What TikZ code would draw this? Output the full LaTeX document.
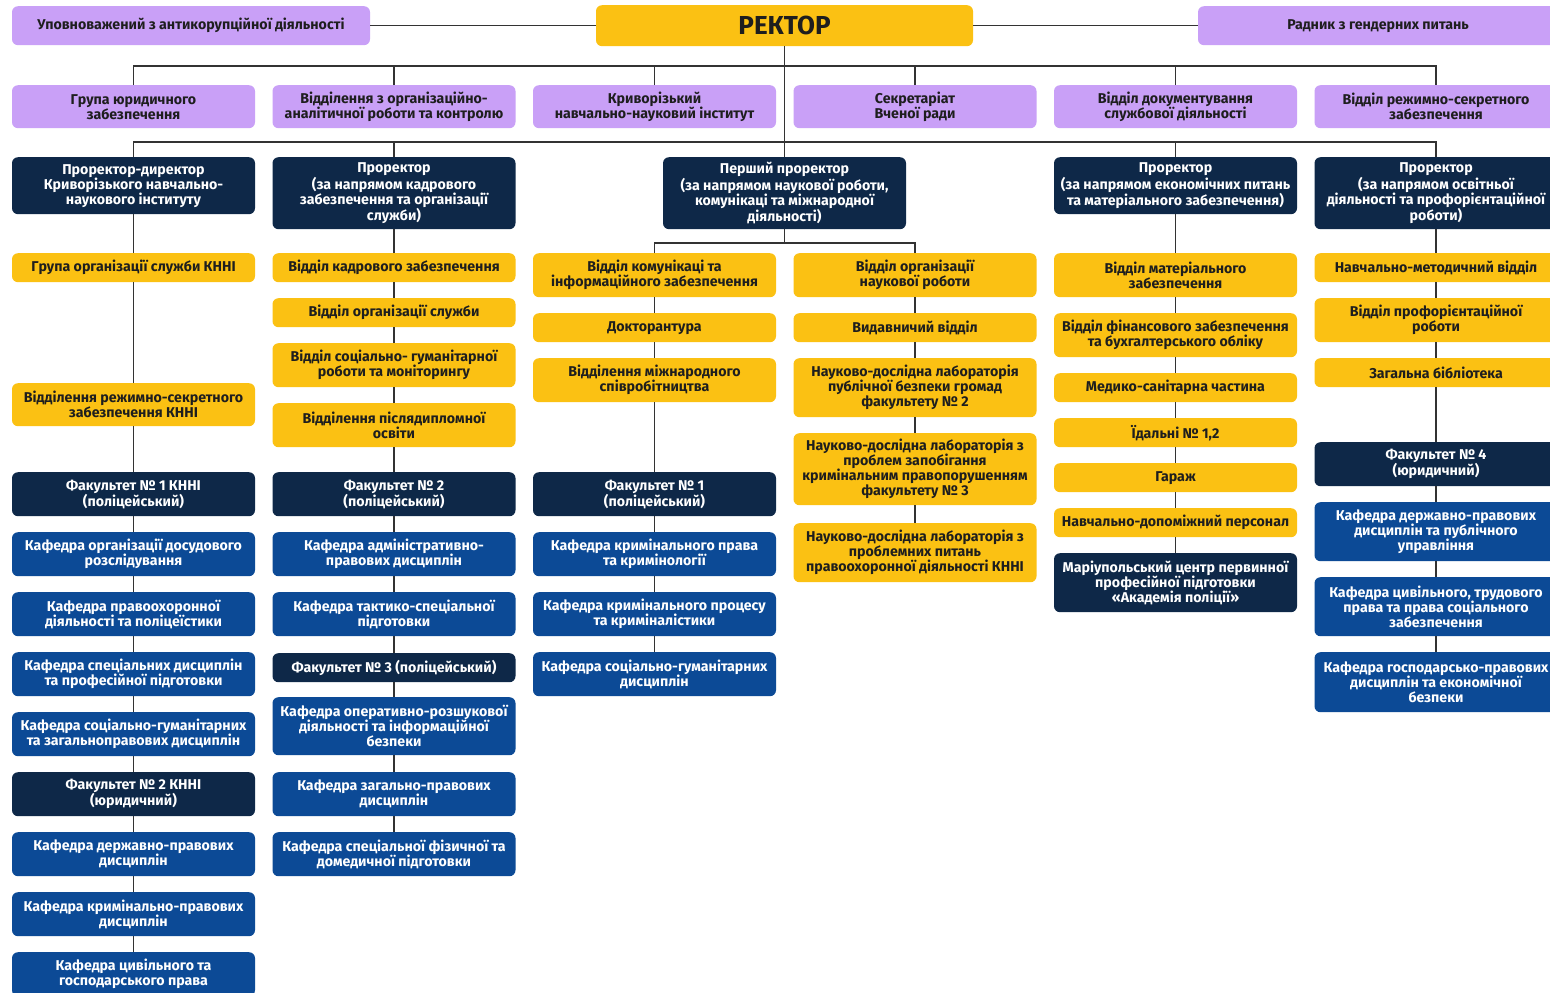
\documentclass[tikz,border=0pt]{standalone}
\usepackage{fontspec}
\setmainfont{Fira Sans}
\definecolor{purp}{HTML}{C9A0F7}
\definecolor{yel}{HTML}{FBC113}
\definecolor{navy}{HTML}{0E2848}
\definecolor{blu}{HTML}{0C4A96}
\definecolor{txtd}{HTML}{1E1E1E}
\definecolor{linec}{HTML}{333333}
\begin{document}
\begin{tikzpicture}[x=1pt,y=1pt,
  box/.style={rounded corners=6pt, minimum width=243pt, align=center, inner sep=2pt,
    anchor=north, font=\bfseries\fontsize{14.2}{15}\selectfont},
  pbox/.style={box, fill=purp, text=txtd},
  ybox/.style={box, fill=yel, text=txtd},
  nbox/.style={box, fill=navy, text=white},
  bbox/.style={box, fill=blu, text=white},
  conn/.style={draw=linec, line width=1.4pt}]
\clip (0,0) rectangle (1550,-993);
\fill[white] (0,0) rectangle (1550,-993);

% top row
\node[pbox, minimum width=358pt, minimum height=39pt] (upov) at (191,-6) {Уповноважений з антикорупційної діяльності};
\node[ybox, minimum width=377pt, minimum height=41pt, font=\bfseries\fontsize{26}{28}\selectfont] (rector) at (784.5,-5) {РЕКТОР};
\node[pbox, minimum width=360pt, minimum height=39pt] (radnyk) at (1378,-6) {Радник з гендерних питань};

% purple row
\node[pbox, minimum height=43pt] (g1) at (133.5,-85) {Група юридичного\\забезпечення};
\node[pbox, minimum height=43pt] (g2) at (394,-85) {Відділення з організаційно-\\аналітичної роботи та контролю};
\node[pbox, minimum height=43pt] (g3) at (654.5,-85) {Криворізький\\навчально-науковий інститут};
\node[pbox, minimum height=43pt] (g4) at (915,-85) {Секретаріат\\Вченої ради};
\node[pbox, minimum height=43pt] (g5) at (1175.5,-85) {Відділ документування\\службової діяльності};
\node[pbox, minimum height=43pt] (g6) at (1436,-85) {Відділ режимно-секретного\\забезпечення};

% vice-rectors
\node[nbox, minimum height=57pt] (n1) at (133.5,-157) {Проректор-директор\\Криворізького навчально-\\наукового інституту};
\node[nbox, minimum height=72pt] (n2) at (394,-157) {Проректор\\(за напрямом кадрового\\забезпечення та організації\\служби)};
\node[nbox, minimum height=72pt] (pp) at (784.5,-157) {Перший проректор\\(за напрямом наукової роботи,\\комунікаці та міжнародної\\діяльності)};
\node[nbox, minimum height=57pt] (n5) at (1175.5,-157) {Проректор\\(за напрямом економічних питань\\та матеріального забезпечення)};
\node[nbox, minimum height=72pt] (n6) at (1436,-157) {Проректор\\(за напрямом  освітньої\\діяльності та профорієнтаційної\\роботи)};

% column 1
\node[ybox, minimum height=29pt] (c1a) at (133.5,-253) {Група організації служби КННІ};
\node[ybox, minimum height=43pt] (c1b) at (133.5,-383) {Відділення режимно-секретного\\забезпечення КННІ};
\node[nbox, minimum height=44pt] (c1c) at (133.5,-472) {Факультет № 1 КННІ\\(поліцейський)};
\node[bbox, minimum height=44pt] (c1d) at (133.5,-532) {Кафедра організації досудового\\розслідування};
\node[bbox, minimum height=44pt] (c1e) at (133.5,-592) {Кафедра правоохоронної\\діяльності та поліцеїстики};
\node[bbox, minimum height=44pt] (c1f) at (133.5,-652) {Кафедра спеціальних дисциплін\\та професійної підготовки};
\node[bbox, minimum height=44pt] (c1g) at (133.5,-712) {Кафедра соціально-гуманітарних\\та загальноправових дисциплін};
\node[nbox, minimum height=44pt] (c1h) at (133.5,-772) {Факультет № 2 КННІ\\(юридичний)};
\node[bbox, minimum height=44pt] (c1i) at (133.5,-832) {Кафедра державно-правових\\дисциплін};
\node[bbox, minimum height=44pt] (c1j) at (133.5,-892) {Кафедра кримінально-правових\\дисциплін};
\node[bbox, minimum height=44pt] (c1k) at (133.5,-952) {Кафедра цивільного та\\господарського права};

% column 2
\node[ybox, minimum height=29pt] (c2a) at (394,-253) {Відділ кадрового забезпечення};
\node[ybox, minimum height=29pt] (c2b) at (394,-298) {Відділ організації служби};
\node[ybox, minimum height=44pt] (c2c) at (394,-343) {Відділ соціально- гуманітарної\\роботи та моніторингу};
\node[ybox, minimum height=44pt] (c2d) at (394,-403) {Відділення післядипломної\\освіти};
\node[nbox, minimum height=44pt] (c2e) at (394,-472) {Факультет № 2\\(поліцейський)};
\node[bbox, minimum height=44pt] (c2f) at (394,-532) {Кафедра адміністративно-\\правових дисциплін};
\node[bbox, minimum height=44pt] (c2g) at (394,-592) {Кафедра тактико-спеціальної\\підготовки};
\node[nbox, minimum height=29pt] (c2h) at (394,-653) {Факультет № 3 (поліцейський)};
\node[bbox, minimum height=58pt] (c2i) at (394,-697) {Кафедра оперативно-розшукової\\діяльності та інформаційної\\безпеки};
\node[bbox, minimum height=44pt] (c2j) at (394,-772) {Кафедра загально-правових\\дисциплін};
\node[bbox, minimum height=44pt] (c2k) at (394,-832) {Кафедра спеціальної фізичної та\\домедичної підготовки};

% column 3
\node[ybox, minimum height=44pt] (c3a) at (654.5,-253) {Відділ комунікаці та\\інформаційного забезпечення};
\node[ybox, minimum height=29pt] (c3b) at (654.5,-313) {Докторантура};
\node[ybox, minimum height=44pt] (c3c) at (654.5,-358) {Відділення міжнародного\\співробітництва};
\node[nbox, minimum height=44pt] (c3d) at (654.5,-472) {Факультет № 1\\(поліцейський)};
\node[bbox, minimum height=44pt] (c3e) at (654.5,-532) {Кафедра кримінального права\\та кримінології};
\node[bbox, minimum height=44pt] (c3f) at (654.5,-592) {Кафедра кримінального процесу\\та криміналістики};
\node[bbox, minimum height=44pt] (c3g) at (654.5,-652) {Кафедра соціально-гуманітарних\\дисциплін};

% column 4
\node[ybox, minimum height=44pt] (c4a) at (915,-253) {Відділ організації\\наукової роботи};
\node[ybox, minimum height=29pt] (c4b) at (915,-313) {Видавничий відділ};
\node[ybox, minimum height=59pt] (c4c) at (915,-358) {Науково-дослідна лабораторія\\публічної безпеки громад\\факультету № 2};
\node[ybox, minimum height=72pt] (c4d) at (915,-433) {Науково-дослідна лабораторія з\\проблем запобігання\\кримінальним правопорушенням\\факультету № 3};
\node[ybox, minimum height=59pt] (c4e) at (915,-523) {Науково-дослідна лабораторія з\\проблемних питань\\правоохоронної діяльності КННІ};

% column 5
\node[ybox, minimum height=44pt] (c5a) at (1175.5,-253) {Відділ матеріального\\забезпечення};
\node[ybox, minimum height=44pt] (c5b) at (1175.5,-313) {Відділ фінансового забезпечення\\та бухгалтерського обліку};
\node[ybox, minimum height=29pt] (c5c) at (1175.5,-373) {Медико-санітарна частина};
\node[ybox, minimum height=29pt] (c5d) at (1175.5,-418) {Їдальні № 1,2};
\node[ybox, minimum height=29pt] (c5e) at (1175.5,-463) {Гараж};
\node[ybox, minimum height=29pt] (c5f) at (1175.5,-508) {Навчально-допоміжний персонал};
\node[nbox, minimum height=59pt] (c5g) at (1175.5,-553) {Маріупольський центр первинної\\професійної підготовки\\«Академія поліції»};

% column 6
\node[ybox, minimum height=29pt] (c6a) at (1436,-253) {Навчально-методичний відділ};
\node[ybox, minimum height=44pt] (c6b) at (1436,-298) {Відділ профорієнтаційної\\роботи};
\node[ybox, minimum height=29pt] (c6c) at (1436,-358) {Загальна бібліотека};
\node[nbox, minimum height=44pt] (c6d) at (1436,-442) {Факультет № 4\\(юридичний)};
\node[bbox, minimum height=59pt] (c6e) at (1436,-502) {Кафедра державно-правових\\дисциплін та публічного\\управління};
\node[bbox, minimum height=59pt] (c6f) at (1436,-577) {Кафедра цивільного, трудового\\права та права соціального\\забезпечення};
\node[bbox, minimum height=60pt] (c6g) at (1436,-652) {Кафедра господарсько-правових\\дисциплін та економічної\\безпеки};

% connectors
\draw[conn] (upov.east) -- (rector.west);
\draw[conn] (rector.east) -- (radnyk.west);
\draw[conn] (rector.south) -- (pp.north);
\draw[conn] (g1.north) -- ++(0,19) -| (g6.north);
\foreach \g in {g2,g3,g4,g5} \draw[conn] (\g.north) -- ++(0,19);
\draw[conn] (n1.north) -- ++(0,15) -| (n6.north);
\foreach \g in {n2,n5} \draw[conn] (\g.north) -- ++(0,15);
\draw[conn] (pp.south) -- ++(0,-14);
\draw[conn] (c3a.north) -- ++(0,10) -| (c4a.north);
\foreach \a/\b in {n1/c1a,c1a/c1b,c1b/c1c,c1c/c1d,c1d/c1e,c1e/c1f,c1f/c1g,c1g/c1h,c1h/c1i,c1i/c1j,c1j/c1k,
  n2/c2a,c2a/c2b,c2b/c2c,c2c/c2d,c2d/c2e,c2e/c2f,c2f/c2g,c2g/c2h,c2h/c2i,c2i/c2j,c2j/c2k,
  c3a/c3b,c3b/c3c,c3c/c3d,c3d/c3e,c3e/c3f,c3f/c3g,
  c4a/c4b,c4b/c4c,c4c/c4d,c4d/c4e,
  n5/c5a,c5a/c5b,c5b/c5c,c5c/c5d,c5d/c5e,c5e/c5f,c5f/c5g,
  n6/c6a,c6a/c6b,c6b/c6c,c6c/c6d,c6d/c6e,c6e/c6f,c6f/c6g}
  \draw[conn] (\a.south) -- (\b.north);
\end{tikzpicture}
\end{document}
